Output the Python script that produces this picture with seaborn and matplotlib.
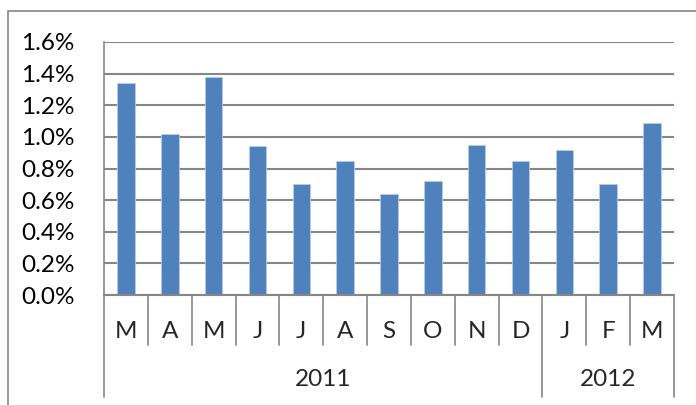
import matplotlib
matplotlib.use("Agg")
import matplotlib.pyplot as plt
import matplotlib.ticker as ticker
import numpy as np
import pandas as pd
import seaborn as sns

months = ["M", "A", "M", "J", "J", "A", "S", "O", "N", "D", "J", "F", "M"]
years = ["2011"] * 10 + ["2012"] * 3
values = [1.34, 1.02, 1.38, 0.94, 0.70, 0.85, 0.64, 0.72, 0.95, 0.845, 0.92, 0.70, 1.09]
y_ticks = [0.0, 0.2, 0.4, 0.6, 0.8, 1.0, 1.2, 1.4, 1.6]

BAR = "#4F81BD"
GRID = "#868686"
W, H = 696, 405
FS = 17.5

sns.set_style("white")
plt.rcParams["font.family"] = ["Lato", "DejaVu Sans"]

df = pd.DataFrame({"pos": range(len(values)), "value": values})

fig = plt.figure(figsize=(W / 100, H / 100), dpi=100)
ax = fig.add_axes([104 / W, 1 - 295 / H, (674 - 104) / W, (295 - 42) / H])

sns.barplot(data=df, x="pos", y="value", color=BAR, width=0.4,
            edgecolor="#B9CDE5", linewidth=0.6, saturation=1, ax=ax)

ax.set_ylim(0, 1.6)
ax.set_xlim(-0.5, len(values) - 0.5)
ax.set_yticks(y_ticks)
ax.yaxis.set_major_formatter(ticker.FuncFormatter(lambda v, p: f"{v:.1f}%"))
ax.set_xticks([])
ax.set_xlabel("")
ax.set_ylabel("")
ax.tick_params(axis="y", length=9, color=GRID, width=1.2, labelsize=FS, pad=12)
ax.grid(axis="y", color=GRID, linewidth=1.5)
ax.set_axisbelow(True)
for side in ["top", "right", "bottom"]:
    ax.spines[side].set_visible(False)
ax.spines["left"].set_color(GRID)
ax.spines["left"].set_linewidth(1.2)
for lab in ax.get_yticklabels():
    lab.set_color("black")

# two-level category axis below plot
px = lambda v: v / (295 - 42)  # pixels to axes fraction (vertical)
trans = ax.get_xaxis_transform()
n = len(values)
ax.plot([-0.5, n - 0.5], [0, 0], transform=trans, color=GRID, lw=1.5, clip_on=False)
for i in range(n + 1):
    x = i - 0.5
    bottom = -px(102) if (i == 0 or i == n or years[i - 1] != years[min(i, n - 1)]) else -px(50)
    ax.plot([x, x], [0, bottom], transform=trans, color=GRID, lw=1.2, clip_on=False)
for i, m in enumerate(months):
    ax.text(i, -px(36), m, transform=trans, ha="center", va="center", fontsize=FS)
for yr in dict.fromkeys(years):
    idx = [i for i, y in enumerate(years) if y == yr]
    ax.text((idx[0] + idx[-1]) / 2, -px(85), yr, transform=trans,
            ha="center", va="center", fontsize=FS)

# outer chart border (cropped at right and bottom)
fig.patches.append(plt.Rectangle((8 / W, -0.1), 1.2, 1 - 11 / H + 0.1,
                                 transform=fig.transFigure, fill=False,
                                 edgecolor=GRID, linewidth=1.2))

fig.savefig("out.png", dpi=100)
